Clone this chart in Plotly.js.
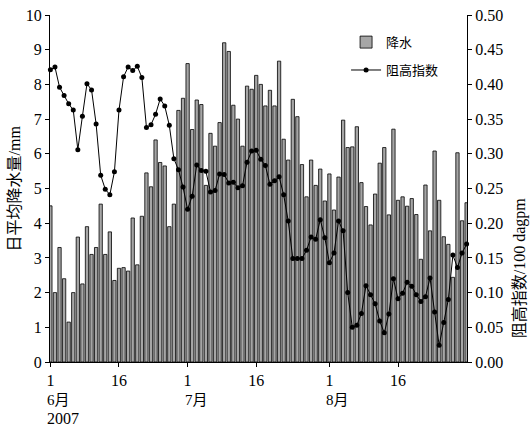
<!DOCTYPE html>
<html>
<head>
<meta charset="utf-8">
<script src="https://cdn.plot.ly/plotly-3.0.1.min.js"></script>
<style>html,body{margin:0;padding:0;background:#fff;}#chart{width:531px;height:428px;}</style>
</head>
<body>
<div id="chart"></div>
<script>
// Daily mean precipitation (mm), 1 Jun - 31 Aug 2007
const precip = [
  4.5, 2.0, 3.3, 2.4, 1.15, 2.0, 3.6, 2.25, 3.9, 3.1,
  3.3, 4.55, 3.1, 3.75, 2.35, 2.7, 2.72, 2.62, 4.15, 2.8,
  4.2, 5.45, 5.05, 6.4, 5.75, 5.65, 3.9, 4.55, 7.25, 7.6,
  8.6, 6.7, 7.55, 7.42, 5.09, 6.59, 6.22, 6.9, 9.2, 8.95,
  7.4, 7.0, 6.22, 7.95, 7.86, 8.26, 8.0, 7.38, 7.83, 7.38,
  8.67, 6.42, 5.82, 7.57, 7.07, 5.69, 4.76, 5.82, 5.09, 5.56,
  4.64, 5.42, 4.38, 5.33, 6.97, 6.18, 6.2, 6.78, 5.17, 4.48,
  3.95, 4.84, 5.73, 6.18, 4.24, 6.71, 4.66, 4.76, 4.49, 4.71,
  4.25, 2.96, 5.1, 3.78, 6.08, 4.66, 3.61, 3.39, 2.44, 6.03,
  4.07, 4.59
];
// Blocking index (100 dagpm)
const blocking = [
  0.421, 0.425, 0.396, 0.384, 0.372, 0.363, 0.306, 0.354, 0.401, 0.392,
  0.343, 0.269, 0.249, 0.241, 0.274, 0.363, 0.411, 0.425, 0.420, 0.426,
  0.410, 0.338, 0.342, 0.357, 0.379, 0.369, 0.341, 0.293, 0.277, 0.252,
  0.220, 0.239, 0.284, 0.276, 0.275, 0.245, 0.247, 0.271, 0.270, 0.258,
  0.259, 0.251, 0.254, 0.288, 0.304, 0.305, 0.292, 0.283, 0.256, 0.261,
  0.267, 0.241, 0.203, 0.149, 0.149, 0.149, 0.161, 0.180, 0.177, 0.205,
  0.179, 0.143, 0.157, 0.203, 0.189, 0.100, 0.050, 0.053, 0.070, 0.110,
  0.097, 0.084, 0.059, 0.042, 0.069, 0.120, 0.091, 0.099, 0.115, 0.109,
  0.097, 0.087, 0.094, 0.121, 0.072, 0.024, 0.057, 0.090, 0.154, 0.136,
  0.157, 0.170
];
// Dates (categories)
const dates = [];
(function(){
  const d0 = new Date(Date.UTC(2007, 5, 1));
  for (let i = 0; i < precip.length; i++) {
    const d = new Date(d0.getTime() + i * 86400000);
    dates.push(d.toISOString().slice(0, 10));
  }
})();
const tickDates = ['2007-06-01','2007-06-16','2007-07-01','2007-07-16','2007-08-01','2007-08-16'];
const tickLabels = ['1','16','1','16','1','16'];
const monthDates = ['2007-06-01','2007-07-01','2007-08-01'];
const monthLabels = ['6月','7月','8月'];
const yearLabel = '2007';
const seriesNames = ['降水','阻高指数'];
const yTitleLeft = '日平均降水量/mm';
const yTitleRight = '阻高指数/100 dagpm';

const FONT = 'Liberation Serif, Times New Roman, Noto Sans CJK SC, serif';
const DAY = 86400000;

const traces = [
  {
    type: 'bar', name: seriesNames[0], x: dates, y: precip,
    width: 0.72 * DAY,
    marker: {color: '#a6a6a6', line: {color: '#000', width: 0.8}},
    yaxis: 'y', legendgroup: 'a'
  },
  {
    type: 'scatter', mode: 'lines+markers', name: seriesNames[1], x: dates, y: blocking,
    line: {color: '#000', width: 1},
    marker: {color: '#000', size: 5},
    yaxis: 'y2', legendgroup: 'b', cliponaxis: false
  }
];

const annotations = [];
monthDates.forEach((d, i) => {
  annotations.push({xref: 'x', yref: 'paper', x: d, y: 0, yshift: -28, text: monthLabels[i],
    showarrow: false, xanchor: 'left', xshift: -5, yanchor: 'top', font: {family: FONT, size: 15, color: '#000'}});
});
annotations.push({xref: 'x', yref: 'paper', x: monthDates[0], y: 0, yshift: -46, text: yearLabel,
  showarrow: false, xanchor: 'left', xshift: -5, yanchor: 'top', font: {family: FONT, size: 16, color: '#000'}});
annotations.push({xref: 'paper', yref: 'paper', x: 0, xshift: -36, y: 0.5, text: yTitleLeft, textangle: -90,
  showarrow: false, xanchor: 'center', yanchor: 'middle', font: {family: FONT, size: 16, color: '#000'}});
annotations.push({xref: 'paper', yref: 'paper', x: 1, xshift: 53, y: 0.27, text: yTitleRight, textangle: -90,
  showarrow: false, xanchor: 'center', yanchor: 'middle', font: {family: FONT, size: 16, color: '#000'}});

const layout = {
  width: 531, height: 428,
  margin: {l: 50, r: 64, t: 15, b: 66, pad: 0},
  paper_bgcolor: '#fff', plot_bgcolor: '#fff',
  font: {family: FONT, size: 15, color: '#000'},
  showlegend: true,
  legend: {x: 0.71, y: 0.965, xanchor: 'left', yanchor: 'top', bgcolor: 'rgba(0,0,0,0)',
    font: {family: FONT, size: 13, color: '#000'}, traceorder: 'grouped', tracegroupgap: 8},
  bargap: 0,
  xaxis: {
    type: 'date', range: ['2007-05-31 22:00', '2007-08-31 02:00'],
    tickvals: tickDates, ticktext: tickLabels, tickangle: 0,
    ticks: 'outside', ticklen: 4, tickcolor: '#000', tickwidth: 1,
    showline: true, linecolor: '#000', linewidth: 1, showgrid: false, zeroline: false,
    tickfont: {family: FONT, size: 16, color: '#000'}
  },
  yaxis: {
    range: [0, 10], dtick: 1, ticks: 'outside', ticklen: 4, tickcolor: '#000',
    showline: true, linecolor: '#000', linewidth: 1, showgrid: false, zeroline: false,
    tickfont: {family: FONT, size: 16, color: '#000'}
  },
  yaxis2: {
    range: [0, 0.5], dtick: 0.05, tickformat: '.2f', overlaying: 'y', side: 'right',
    ticks: 'outside', ticklen: 4, tickcolor: '#000',
    showline: true, linecolor: '#000', linewidth: 1, showgrid: false, zeroline: false,
    tickfont: {family: FONT, size: 16, color: '#000'}
  },
  annotations: annotations
};

Plotly.newPlot('chart', traces, layout, {displayModeBar: false, staticPlot: true});
</script>
</body>
</html>
